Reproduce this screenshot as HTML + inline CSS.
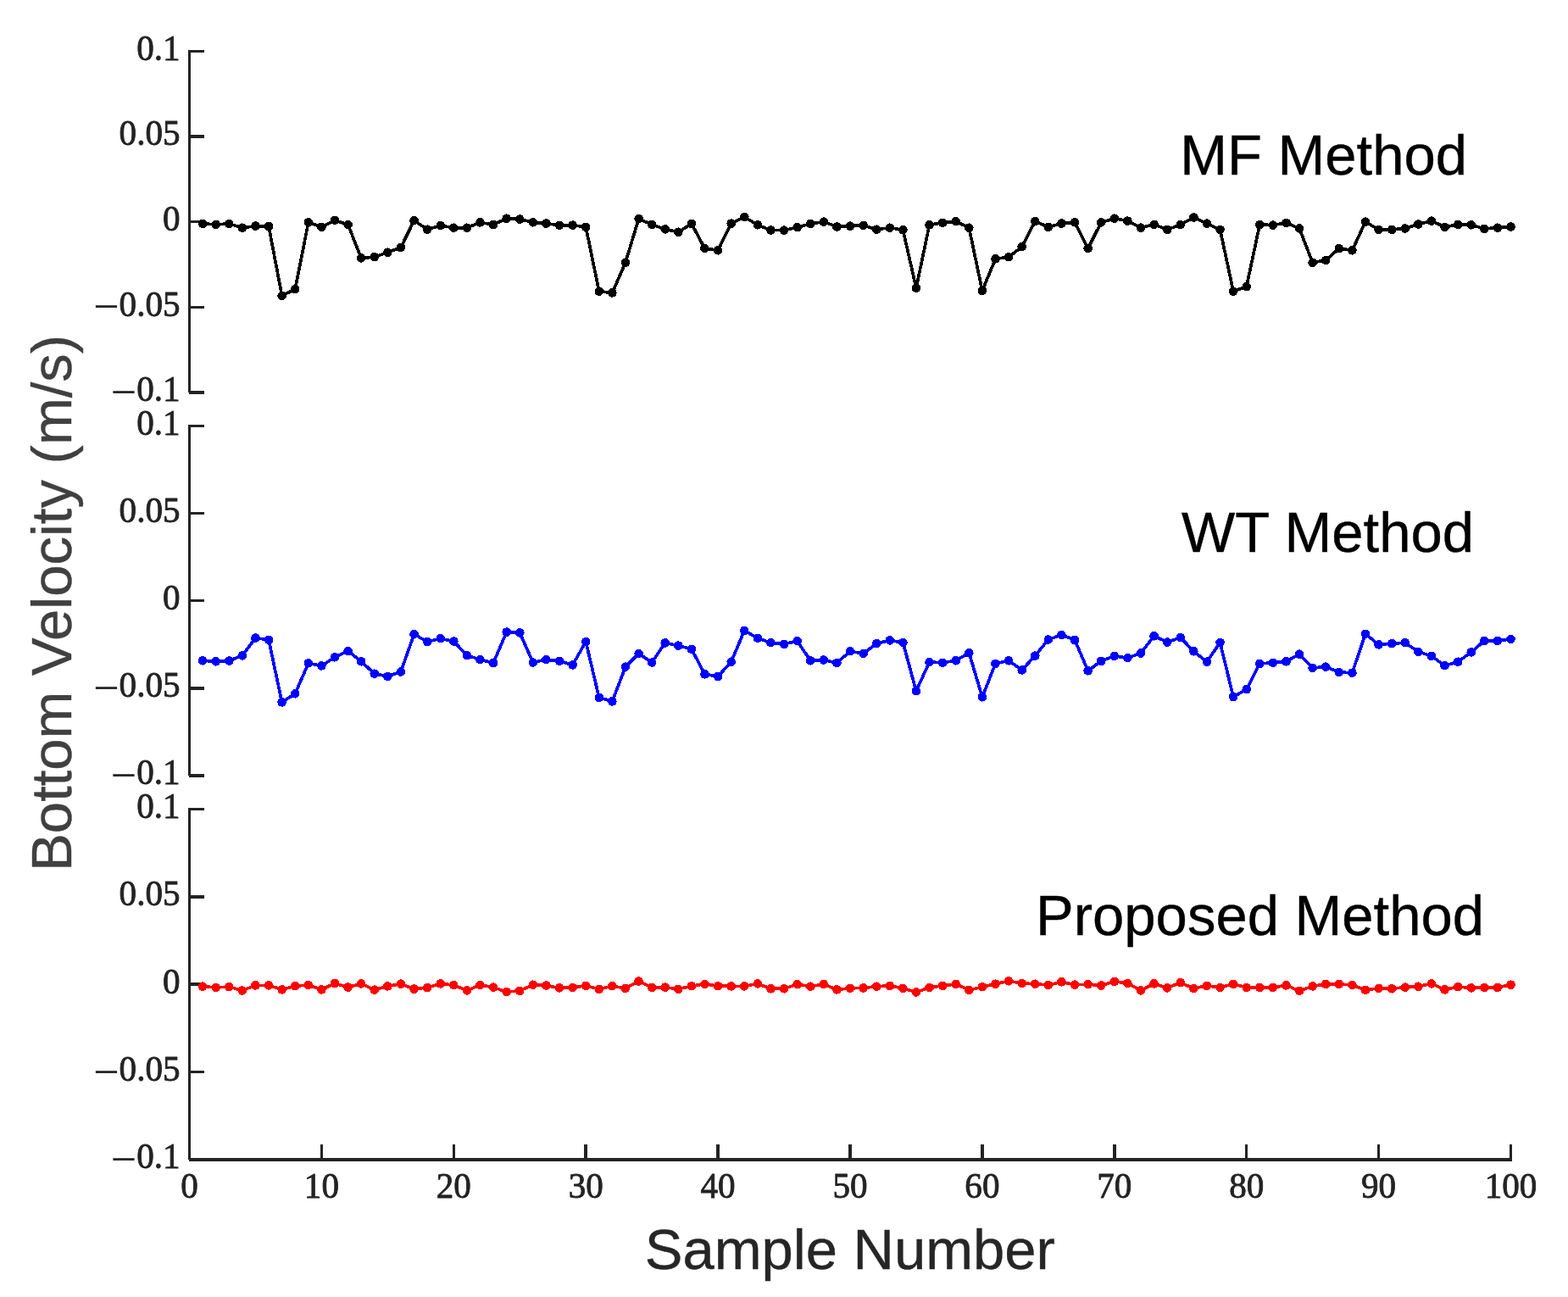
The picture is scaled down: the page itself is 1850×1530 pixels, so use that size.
<!DOCTYPE html>
<html lang="en">
<head>
<meta charset="utf-8">
<title>Bottom Velocity vs Sample Number</title>
<style>
html,body{margin:0;padding:0;background:#fff;}
body{width:1850px;height:1530px;overflow:hidden;}
svg{display:block;}
.tk{font-family:"Liberation Serif","DejaVu Serif",serif;font-size:42.2px;fill:#232323;stroke:#232323;stroke-width:0.85;stroke-linejoin:round;}
.mn{font-size:55.7px;stroke-width:0;}
.lb{font-family:"Liberation Sans","DejaVu Sans",sans-serif;font-size:67px;stroke-width:0.4;stroke-linejoin:round;}
.tt{font-family:"Liberation Sans","DejaVu Sans",sans-serif;font-size:67px;fill:#000;stroke:#000;stroke-width:0.4;stroke-linejoin:round;}
.ax{fill:#232323;stroke:none;shape-rendering:crispEdges;}
</style>
</head>
<body>
<svg width="1850" height="1530" viewBox="0 0 1850 1530">
<rect x="0" y="0" width="1850" height="1530" fill="#ffffff"/>
<g>
<rect class="ax" x="221.75" y="58.65" width="3.5" height="404.5"/>
<rect class="ax" x="221.75" y="58.65" width="19.25" height="3.5"/>
<text class="tk" transform="translate(212.6 70.8) scale(0.975 1)" text-anchor="end">0.1</text>
<rect class="ax" x="221.75" y="159.28" width="19.25" height="3.5"/>
<text class="tk" transform="translate(212.6 171.43) scale(0.975 1)" text-anchor="end">0.05</text>
<rect class="ax" x="221.75" y="259.9" width="19.25" height="3.5"/>
<text class="tk" transform="translate(212.6 272.05) scale(0.975 1)" text-anchor="end">0</text>
<rect class="ax" x="221.75" y="360.52" width="19.25" height="3.5"/>
<text class="tk" transform="translate(212.6 372.67) scale(0.975 1)" text-anchor="end"><tspan class="mn" dy="7.75">−</tspan><tspan dy="-7.75" dx="0">0.05</tspan></text>
<rect class="ax" x="222.75" y="461.15" width="18.25" height="3.5"/>
<text class="tk" transform="translate(212.6 473.3) scale(0.975 1)" text-anchor="end"><tspan class="mn" dy="7.75">−</tspan><tspan dy="-7.75" dx="0">0.1</tspan></text>
</g>
<g>
<rect class="ax" x="221.75" y="500.65" width="3.5" height="414.5"/>
<rect class="ax" x="221.75" y="500.65" width="19.25" height="3.5"/>
<text class="tk" transform="translate(212.6 512.8) scale(0.975 1)" text-anchor="end">0.1</text>
<rect class="ax" x="221.75" y="603.77" width="19.25" height="3.5"/>
<text class="tk" transform="translate(212.6 615.92) scale(0.975 1)" text-anchor="end">0.05</text>
<rect class="ax" x="221.75" y="706.9" width="19.25" height="3.5"/>
<text class="tk" transform="translate(212.6 719.05) scale(0.975 1)" text-anchor="end">0</text>
<rect class="ax" x="221.75" y="810.02" width="19.25" height="3.5"/>
<text class="tk" transform="translate(212.6 822.17) scale(0.975 1)" text-anchor="end"><tspan class="mn" dy="7.75">−</tspan><tspan dy="-7.75" dx="0">0.05</tspan></text>
<rect class="ax" x="222.75" y="913.15" width="18.25" height="3.5"/>
<text class="tk" transform="translate(212.6 925.3) scale(0.975 1)" text-anchor="end"><tspan class="mn" dy="7.75">−</tspan><tspan dy="-7.75" dx="0">0.1</tspan></text>
</g>
<g>
<rect class="ax" x="221.75" y="952.65" width="3.5" height="415.5"/>
<rect class="ax" x="221.75" y="952.65" width="19.25" height="3.5"/>
<text class="tk" transform="translate(212.6 964.8) scale(0.975 1)" text-anchor="end">0.1</text>
<rect class="ax" x="221.75" y="1056.03" width="19.25" height="3.5"/>
<text class="tk" transform="translate(212.6 1068.18) scale(0.975 1)" text-anchor="end">0.05</text>
<rect class="ax" x="221.75" y="1159.4" width="19.25" height="3.5"/>
<text class="tk" transform="translate(212.6 1171.55) scale(0.975 1)" text-anchor="end">0</text>
<rect class="ax" x="221.75" y="1262.78" width="19.25" height="3.5"/>
<text class="tk" transform="translate(212.6 1274.93) scale(0.975 1)" text-anchor="end"><tspan class="mn" dy="7.75">−</tspan><tspan dy="-7.75" dx="0">0.05</tspan></text>
<text class="tk" transform="translate(212.6 1378.3) scale(0.975 1)" text-anchor="end"><tspan class="mn" dy="7.75">−</tspan><tspan dy="-7.75" dx="0">0.1</tspan></text>
</g>
<g>
<rect class="ax" x="222.75" y="1366.15" width="1561.5" height="3.5"/>
<text class="tk" transform="translate(223.5 1413.1) scale(0.975 1)" text-anchor="middle">0</text>
<rect class="ax" x="377.65" y="1350" width="3.5" height="17.9"/>
<text class="tk" transform="translate(379.4 1413.1) scale(0.975 1)" text-anchor="middle">10</text>
<rect class="ax" x="533.55" y="1350" width="3.5" height="17.9"/>
<text class="tk" transform="translate(535.3 1413.1) scale(0.975 1)" text-anchor="middle">20</text>
<rect class="ax" x="689.45" y="1350" width="3.5" height="17.9"/>
<text class="tk" transform="translate(691.2 1413.1) scale(0.975 1)" text-anchor="middle">30</text>
<rect class="ax" x="845.35" y="1350" width="3.5" height="17.9"/>
<text class="tk" transform="translate(847.1 1413.1) scale(0.975 1)" text-anchor="middle">40</text>
<rect class="ax" x="1001.25" y="1350" width="3.5" height="17.9"/>
<text class="tk" transform="translate(1003 1413.1) scale(0.975 1)" text-anchor="middle">50</text>
<rect class="ax" x="1157.15" y="1350" width="3.5" height="17.9"/>
<text class="tk" transform="translate(1158.9 1413.1) scale(0.975 1)" text-anchor="middle">60</text>
<rect class="ax" x="1313.05" y="1350" width="3.5" height="17.9"/>
<text class="tk" transform="translate(1314.8 1413.1) scale(0.975 1)" text-anchor="middle">70</text>
<rect class="ax" x="1468.95" y="1350" width="3.5" height="17.9"/>
<text class="tk" transform="translate(1470.7 1413.1) scale(0.975 1)" text-anchor="middle">80</text>
<rect class="ax" x="1624.85" y="1350" width="3.5" height="17.9"/>
<text class="tk" transform="translate(1626.6 1413.1) scale(0.975 1)" text-anchor="middle">90</text>
<rect class="ax" x="1780.75" y="1350" width="3.5" height="17.9"/>
<text class="tk" transform="translate(1782.5 1413.1) scale(0.975 1)" text-anchor="middle">100</text>
</g>
<g fill="#000000" stroke="none" shape-rendering="crispEdges">
<polyline points="239.09,263.95 254.68,264.8 270.27,263.95 285.86,268.7 301.45,266.6 317.04,267 332.63,348.8 348.22,341.2 363.81,262.4 379.4,267.8 394.99,259.9 410.58,265 426.17,304.4 441.76,303.2 457.35,297.7 472.94,291.9 488.53,260.2 504.12,270.7 519.71,266.1 535.3,268.7 550.89,268.7 566.48,262.4 582.07,265 597.66,257.7 613.25,258.55 628.84,262.3 644.43,263.6 660.02,265.8 675.61,265.6 691.2,267.8 706.79,343.7 722.38,345.4 737.97,309.7 753.56,258 769.15,265 784.74,270.4 800.33,273.7 815.92,263.95 831.51,293.1 847.1,295.3 862.69,263.6 878.28,256 893.87,265.3 909.46,271.5 925.05,271.7 940.64,268.2 956.23,263.95 971.82,261.6 987.41,267.5 1003,266.6 1018.59,265.8 1034.18,270.7 1049.77,268.7 1065.36,271.2 1080.95,339.85 1096.54,265.3 1112.13,262.8 1127.72,261.2 1143.31,268.7 1158.9,342.9 1174.49,305.4 1190.08,303.2 1205.67,291.1 1221.26,261.1 1236.85,267.8 1252.44,263.6 1268.03,262.3 1283.62,293.1 1299.21,262.4 1314.8,257.7 1330.39,260.6 1345.98,268.7 1361.57,264.8 1377.16,270.9 1392.75,265 1408.34,256.5 1423.93,263.6 1439.52,270.9 1455.11,343.7 1470.7,338.2 1486.29,264.96 1501.88,265.6 1517.47,262.8 1533.06,269.5 1548.65,309.7 1564.24,306.96 1579.83,293.1 1595.42,295.3 1611.01,261.6 1626.6,270.9 1642.19,270.9 1657.78,269.5 1673.37,264.5 1688.96,260.6 1704.55,267.8 1720.14,265 1735.73,265.3 1751.32,269.85 1766.91,268.7 1782.5,267.5" fill="none" stroke="#000000" stroke-width="3.7" stroke-linejoin="round" stroke-linecap="round"/>
<circle cx="239.09" cy="263.95" r="5.3"/><circle cx="254.68" cy="264.8" r="5.3"/><circle cx="270.27" cy="263.95" r="5.3"/><circle cx="285.86" cy="268.7" r="5.3"/><circle cx="301.45" cy="266.6" r="5.3"/>
<circle cx="317.04" cy="267" r="5.3"/><circle cx="332.63" cy="348.8" r="5.3"/><circle cx="348.22" cy="341.2" r="5.3"/><circle cx="363.81" cy="262.4" r="5.3"/><circle cx="379.4" cy="267.8" r="5.3"/>
<circle cx="394.99" cy="259.9" r="5.3"/><circle cx="410.58" cy="265" r="5.3"/><circle cx="426.17" cy="304.4" r="5.3"/><circle cx="441.76" cy="303.2" r="5.3"/><circle cx="457.35" cy="297.7" r="5.3"/>
<circle cx="472.94" cy="291.9" r="5.3"/><circle cx="488.53" cy="260.2" r="5.3"/><circle cx="504.12" cy="270.7" r="5.3"/><circle cx="519.71" cy="266.1" r="5.3"/><circle cx="535.3" cy="268.7" r="5.3"/>
<circle cx="550.89" cy="268.7" r="5.3"/><circle cx="566.48" cy="262.4" r="5.3"/><circle cx="582.07" cy="265" r="5.3"/><circle cx="597.66" cy="257.7" r="5.3"/><circle cx="613.25" cy="258.55" r="5.3"/>
<circle cx="628.84" cy="262.3" r="5.3"/><circle cx="644.43" cy="263.6" r="5.3"/><circle cx="660.02" cy="265.8" r="5.3"/><circle cx="675.61" cy="265.6" r="5.3"/><circle cx="691.2" cy="267.8" r="5.3"/>
<circle cx="706.79" cy="343.7" r="5.3"/><circle cx="722.38" cy="345.4" r="5.3"/><circle cx="737.97" cy="309.7" r="5.3"/><circle cx="753.56" cy="258" r="5.3"/><circle cx="769.15" cy="265" r="5.3"/>
<circle cx="784.74" cy="270.4" r="5.3"/><circle cx="800.33" cy="273.7" r="5.3"/><circle cx="815.92" cy="263.95" r="5.3"/><circle cx="831.51" cy="293.1" r="5.3"/><circle cx="847.1" cy="295.3" r="5.3"/>
<circle cx="862.69" cy="263.6" r="5.3"/><circle cx="878.28" cy="256" r="5.3"/><circle cx="893.87" cy="265.3" r="5.3"/><circle cx="909.46" cy="271.5" r="5.3"/><circle cx="925.05" cy="271.7" r="5.3"/>
<circle cx="940.64" cy="268.2" r="5.3"/><circle cx="956.23" cy="263.95" r="5.3"/><circle cx="971.82" cy="261.6" r="5.3"/><circle cx="987.41" cy="267.5" r="5.3"/><circle cx="1003" cy="266.6" r="5.3"/>
<circle cx="1018.59" cy="265.8" r="5.3"/><circle cx="1034.18" cy="270.7" r="5.3"/><circle cx="1049.77" cy="268.7" r="5.3"/><circle cx="1065.36" cy="271.2" r="5.3"/><circle cx="1080.95" cy="339.85" r="5.3"/>
<circle cx="1096.54" cy="265.3" r="5.3"/><circle cx="1112.13" cy="262.8" r="5.3"/><circle cx="1127.72" cy="261.2" r="5.3"/><circle cx="1143.31" cy="268.7" r="5.3"/><circle cx="1158.9" cy="342.9" r="5.3"/>
<circle cx="1174.49" cy="305.4" r="5.3"/><circle cx="1190.08" cy="303.2" r="5.3"/><circle cx="1205.67" cy="291.1" r="5.3"/><circle cx="1221.26" cy="261.1" r="5.3"/><circle cx="1236.85" cy="267.8" r="5.3"/>
<circle cx="1252.44" cy="263.6" r="5.3"/><circle cx="1268.03" cy="262.3" r="5.3"/><circle cx="1283.62" cy="293.1" r="5.3"/><circle cx="1299.21" cy="262.4" r="5.3"/><circle cx="1314.8" cy="257.7" r="5.3"/>
<circle cx="1330.39" cy="260.6" r="5.3"/><circle cx="1345.98" cy="268.7" r="5.3"/><circle cx="1361.57" cy="264.8" r="5.3"/><circle cx="1377.16" cy="270.9" r="5.3"/><circle cx="1392.75" cy="265" r="5.3"/>
<circle cx="1408.34" cy="256.5" r="5.3"/><circle cx="1423.93" cy="263.6" r="5.3"/><circle cx="1439.52" cy="270.9" r="5.3"/><circle cx="1455.11" cy="343.7" r="5.3"/><circle cx="1470.7" cy="338.2" r="5.3"/>
<circle cx="1486.29" cy="264.96" r="5.3"/><circle cx="1501.88" cy="265.6" r="5.3"/><circle cx="1517.47" cy="262.8" r="5.3"/><circle cx="1533.06" cy="269.5" r="5.3"/><circle cx="1548.65" cy="309.7" r="5.3"/>
<circle cx="1564.24" cy="306.96" r="5.3"/><circle cx="1579.83" cy="293.1" r="5.3"/><circle cx="1595.42" cy="295.3" r="5.3"/><circle cx="1611.01" cy="261.6" r="5.3"/><circle cx="1626.6" cy="270.9" r="5.3"/>
<circle cx="1642.19" cy="270.9" r="5.3"/><circle cx="1657.78" cy="269.5" r="5.3"/><circle cx="1673.37" cy="264.5" r="5.3"/><circle cx="1688.96" cy="260.6" r="5.3"/><circle cx="1704.55" cy="267.8" r="5.3"/>
<circle cx="1720.14" cy="265" r="5.3"/><circle cx="1735.73" cy="265.3" r="5.3"/><circle cx="1751.32" cy="269.85" r="5.3"/><circle cx="1766.91" cy="268.7" r="5.3"/><circle cx="1782.5" cy="267.5" r="5.3"/>
</g>
<g fill="#0000ff" stroke="none" shape-rendering="crispEdges">
<polyline points="239.09,779.3 254.68,780.3 270.27,779.5 285.86,773.4 301.45,752.5 317.04,754.85 332.63,828.4 348.22,818.3 363.81,782.3 379.4,785.4 394.99,775.3 410.58,768 426.17,780.3 441.76,794.7 457.35,797.9 472.94,792.5 488.53,748.1 504.12,757 519.71,753.2 535.3,756.5 550.89,773.1 566.48,778.1 582.07,782 597.66,745.6 613.25,746.4 628.84,781.5 644.43,778.1 660.02,779.8 675.61,784.4 691.2,757 706.79,822.8 722.38,827.4 737.97,786.6 753.56,771 769.15,781.5 784.74,758.4 800.33,761.6 815.92,765.8 831.51,795.3 847.1,798 862.69,780.7 878.28,743.9 893.87,752.8 909.46,758.2 925.05,759.9 940.64,756.2 956.23,779.3 971.82,778.5 987.41,782 1003,768.3 1018.59,770.9 1034.18,759.2 1049.77,755.4 1065.36,757.9 1080.95,815.2 1096.54,781 1112.13,781.8 1127.72,779.3 1143.31,770.2 1158.9,822.3 1174.49,782.85 1190.08,779.3 1205.67,790.4 1221.26,773.6 1236.85,754.5 1252.44,748.95 1268.03,755 1283.62,791.3 1299.21,779.8 1314.8,773.9 1330.39,776.1 1345.98,770.5 1361.57,750.3 1377.16,757.55 1392.75,752 1408.34,768.3 1423.93,780.7 1439.52,757.9 1455.11,822 1470.7,813.2 1486.29,782.85 1501.88,781.8 1517.47,780.3 1533.06,771.7 1548.65,787.9 1564.24,786.6 1579.83,793 1595.42,793.65 1611.01,747.8 1626.6,760.4 1642.19,759.2 1657.78,758.2 1673.37,768.85 1688.96,773.9 1704.55,785.2 1720.14,780.7 1735.73,769.4 1751.32,755.9 1766.91,755.9 1782.5,754" fill="none" stroke="#0000ff" stroke-width="3.7" stroke-linejoin="round" stroke-linecap="round"/>
<circle cx="239.09" cy="779.3" r="5.3"/><circle cx="254.68" cy="780.3" r="5.3"/><circle cx="270.27" cy="779.5" r="5.3"/><circle cx="285.86" cy="773.4" r="5.3"/><circle cx="301.45" cy="752.5" r="5.3"/>
<circle cx="317.04" cy="754.85" r="5.3"/><circle cx="332.63" cy="828.4" r="5.3"/><circle cx="348.22" cy="818.3" r="5.3"/><circle cx="363.81" cy="782.3" r="5.3"/><circle cx="379.4" cy="785.4" r="5.3"/>
<circle cx="394.99" cy="775.3" r="5.3"/><circle cx="410.58" cy="768" r="5.3"/><circle cx="426.17" cy="780.3" r="5.3"/><circle cx="441.76" cy="794.7" r="5.3"/><circle cx="457.35" cy="797.9" r="5.3"/>
<circle cx="472.94" cy="792.5" r="5.3"/><circle cx="488.53" cy="748.1" r="5.3"/><circle cx="504.12" cy="757" r="5.3"/><circle cx="519.71" cy="753.2" r="5.3"/><circle cx="535.3" cy="756.5" r="5.3"/>
<circle cx="550.89" cy="773.1" r="5.3"/><circle cx="566.48" cy="778.1" r="5.3"/><circle cx="582.07" cy="782" r="5.3"/><circle cx="597.66" cy="745.6" r="5.3"/><circle cx="613.25" cy="746.4" r="5.3"/>
<circle cx="628.84" cy="781.5" r="5.3"/><circle cx="644.43" cy="778.1" r="5.3"/><circle cx="660.02" cy="779.8" r="5.3"/><circle cx="675.61" cy="784.4" r="5.3"/><circle cx="691.2" cy="757" r="5.3"/>
<circle cx="706.79" cy="822.8" r="5.3"/><circle cx="722.38" cy="827.4" r="5.3"/><circle cx="737.97" cy="786.6" r="5.3"/><circle cx="753.56" cy="771" r="5.3"/><circle cx="769.15" cy="781.5" r="5.3"/>
<circle cx="784.74" cy="758.4" r="5.3"/><circle cx="800.33" cy="761.6" r="5.3"/><circle cx="815.92" cy="765.8" r="5.3"/><circle cx="831.51" cy="795.3" r="5.3"/><circle cx="847.1" cy="798" r="5.3"/>
<circle cx="862.69" cy="780.7" r="5.3"/><circle cx="878.28" cy="743.9" r="5.3"/><circle cx="893.87" cy="752.8" r="5.3"/><circle cx="909.46" cy="758.2" r="5.3"/><circle cx="925.05" cy="759.9" r="5.3"/>
<circle cx="940.64" cy="756.2" r="5.3"/><circle cx="956.23" cy="779.3" r="5.3"/><circle cx="971.82" cy="778.5" r="5.3"/><circle cx="987.41" cy="782" r="5.3"/><circle cx="1003" cy="768.3" r="5.3"/>
<circle cx="1018.59" cy="770.9" r="5.3"/><circle cx="1034.18" cy="759.2" r="5.3"/><circle cx="1049.77" cy="755.4" r="5.3"/><circle cx="1065.36" cy="757.9" r="5.3"/><circle cx="1080.95" cy="815.2" r="5.3"/>
<circle cx="1096.54" cy="781" r="5.3"/><circle cx="1112.13" cy="781.8" r="5.3"/><circle cx="1127.72" cy="779.3" r="5.3"/><circle cx="1143.31" cy="770.2" r="5.3"/><circle cx="1158.9" cy="822.3" r="5.3"/>
<circle cx="1174.49" cy="782.85" r="5.3"/><circle cx="1190.08" cy="779.3" r="5.3"/><circle cx="1205.67" cy="790.4" r="5.3"/><circle cx="1221.26" cy="773.6" r="5.3"/><circle cx="1236.85" cy="754.5" r="5.3"/>
<circle cx="1252.44" cy="748.95" r="5.3"/><circle cx="1268.03" cy="755" r="5.3"/><circle cx="1283.62" cy="791.3" r="5.3"/><circle cx="1299.21" cy="779.8" r="5.3"/><circle cx="1314.8" cy="773.9" r="5.3"/>
<circle cx="1330.39" cy="776.1" r="5.3"/><circle cx="1345.98" cy="770.5" r="5.3"/><circle cx="1361.57" cy="750.3" r="5.3"/><circle cx="1377.16" cy="757.55" r="5.3"/><circle cx="1392.75" cy="752" r="5.3"/>
<circle cx="1408.34" cy="768.3" r="5.3"/><circle cx="1423.93" cy="780.7" r="5.3"/><circle cx="1439.52" cy="757.9" r="5.3"/><circle cx="1455.11" cy="822" r="5.3"/><circle cx="1470.7" cy="813.2" r="5.3"/>
<circle cx="1486.29" cy="782.85" r="5.3"/><circle cx="1501.88" cy="781.8" r="5.3"/><circle cx="1517.47" cy="780.3" r="5.3"/><circle cx="1533.06" cy="771.7" r="5.3"/><circle cx="1548.65" cy="787.9" r="5.3"/>
<circle cx="1564.24" cy="786.6" r="5.3"/><circle cx="1579.83" cy="793" r="5.3"/><circle cx="1595.42" cy="793.65" r="5.3"/><circle cx="1611.01" cy="747.8" r="5.3"/><circle cx="1626.6" cy="760.4" r="5.3"/>
<circle cx="1642.19" cy="759.2" r="5.3"/><circle cx="1657.78" cy="758.2" r="5.3"/><circle cx="1673.37" cy="768.85" r="5.3"/><circle cx="1688.96" cy="773.9" r="5.3"/><circle cx="1704.55" cy="785.2" r="5.3"/>
<circle cx="1720.14" cy="780.7" r="5.3"/><circle cx="1735.73" cy="769.4" r="5.3"/><circle cx="1751.32" cy="755.9" r="5.3"/><circle cx="1766.91" cy="755.9" r="5.3"/><circle cx="1782.5" cy="754" r="5.3"/>
</g>
<g fill="#ff0000" stroke="none" shape-rendering="crispEdges">
<polyline points="239.09,1163.7 254.68,1164.9 270.27,1164.1 285.86,1168.5 301.45,1162.4 317.04,1162.4 332.63,1167.4 348.22,1163.2 363.81,1162 379.4,1167.4 394.99,1160 410.58,1164.6 426.17,1160.4 441.76,1167.6 457.35,1163.4 472.94,1160.7 488.53,1166.6 504.12,1165.1 519.71,1160.4 535.3,1162 550.89,1168.45 566.48,1162 582.07,1164.6 597.66,1170.1 613.25,1168.8 628.84,1161.7 644.43,1162.55 660.02,1165.4 675.61,1164.9 691.2,1162.9 706.79,1166.8 722.38,1163.2 737.97,1165.9 753.56,1157.5 769.15,1164.9 784.74,1164.6 800.33,1166.8 815.92,1163.2 831.51,1160.9 847.1,1163.2 862.69,1163.4 878.28,1163.4 893.87,1160.4 909.46,1166.3 925.05,1166.3 940.64,1161.2 956.23,1163.7 971.82,1160.9 987.41,1167.4 1003,1165.8 1018.59,1165.4 1034.18,1163.7 1049.77,1162.9 1065.36,1165.8 1080.95,1170.5 1096.54,1164.9 1112.13,1162.9 1127.72,1160.9 1143.31,1167.9 1158.9,1164.2 1174.49,1160.7 1190.08,1157.3 1205.67,1160 1221.26,1160.7 1236.85,1162 1252.44,1158.3 1268.03,1161.7 1283.62,1161.2 1299.21,1162.55 1314.8,1157.8 1330.39,1159.85 1345.98,1168.45 1361.57,1160.4 1377.16,1165.4 1392.75,1159.2 1408.34,1165.9 1423.93,1162.9 1439.52,1164.9 1455.11,1160.9 1470.7,1164.9 1486.29,1164.9 1501.88,1164.9 1517.47,1162.4 1533.06,1168.8 1548.65,1163.4 1564.24,1160.9 1579.83,1160.9 1595.42,1162 1611.01,1167.9 1626.6,1165.8 1642.19,1166.3 1657.78,1164.6 1673.37,1163.7 1688.96,1160.4 1704.55,1167.4 1720.14,1164.1 1735.73,1165.4 1751.32,1165.1 1766.91,1164.9 1782.5,1161.7" fill="none" stroke="#ff0000" stroke-width="3.7" stroke-linejoin="round" stroke-linecap="round"/>
<circle cx="239.09" cy="1163.7" r="5.3"/><circle cx="254.68" cy="1164.9" r="5.3"/><circle cx="270.27" cy="1164.1" r="5.3"/><circle cx="285.86" cy="1168.5" r="5.3"/><circle cx="301.45" cy="1162.4" r="5.3"/>
<circle cx="317.04" cy="1162.4" r="5.3"/><circle cx="332.63" cy="1167.4" r="5.3"/><circle cx="348.22" cy="1163.2" r="5.3"/><circle cx="363.81" cy="1162" r="5.3"/><circle cx="379.4" cy="1167.4" r="5.3"/>
<circle cx="394.99" cy="1160" r="5.3"/><circle cx="410.58" cy="1164.6" r="5.3"/><circle cx="426.17" cy="1160.4" r="5.3"/><circle cx="441.76" cy="1167.6" r="5.3"/><circle cx="457.35" cy="1163.4" r="5.3"/>
<circle cx="472.94" cy="1160.7" r="5.3"/><circle cx="488.53" cy="1166.6" r="5.3"/><circle cx="504.12" cy="1165.1" r="5.3"/><circle cx="519.71" cy="1160.4" r="5.3"/><circle cx="535.3" cy="1162" r="5.3"/>
<circle cx="550.89" cy="1168.45" r="5.3"/><circle cx="566.48" cy="1162" r="5.3"/><circle cx="582.07" cy="1164.6" r="5.3"/><circle cx="597.66" cy="1170.1" r="5.3"/><circle cx="613.25" cy="1168.8" r="5.3"/>
<circle cx="628.84" cy="1161.7" r="5.3"/><circle cx="644.43" cy="1162.55" r="5.3"/><circle cx="660.02" cy="1165.4" r="5.3"/><circle cx="675.61" cy="1164.9" r="5.3"/><circle cx="691.2" cy="1162.9" r="5.3"/>
<circle cx="706.79" cy="1166.8" r="5.3"/><circle cx="722.38" cy="1163.2" r="5.3"/><circle cx="737.97" cy="1165.9" r="5.3"/><circle cx="753.56" cy="1157.5" r="5.3"/><circle cx="769.15" cy="1164.9" r="5.3"/>
<circle cx="784.74" cy="1164.6" r="5.3"/><circle cx="800.33" cy="1166.8" r="5.3"/><circle cx="815.92" cy="1163.2" r="5.3"/><circle cx="831.51" cy="1160.9" r="5.3"/><circle cx="847.1" cy="1163.2" r="5.3"/>
<circle cx="862.69" cy="1163.4" r="5.3"/><circle cx="878.28" cy="1163.4" r="5.3"/><circle cx="893.87" cy="1160.4" r="5.3"/><circle cx="909.46" cy="1166.3" r="5.3"/><circle cx="925.05" cy="1166.3" r="5.3"/>
<circle cx="940.64" cy="1161.2" r="5.3"/><circle cx="956.23" cy="1163.7" r="5.3"/><circle cx="971.82" cy="1160.9" r="5.3"/><circle cx="987.41" cy="1167.4" r="5.3"/><circle cx="1003" cy="1165.8" r="5.3"/>
<circle cx="1018.59" cy="1165.4" r="5.3"/><circle cx="1034.18" cy="1163.7" r="5.3"/><circle cx="1049.77" cy="1162.9" r="5.3"/><circle cx="1065.36" cy="1165.8" r="5.3"/><circle cx="1080.95" cy="1170.5" r="5.3"/>
<circle cx="1096.54" cy="1164.9" r="5.3"/><circle cx="1112.13" cy="1162.9" r="5.3"/><circle cx="1127.72" cy="1160.9" r="5.3"/><circle cx="1143.31" cy="1167.9" r="5.3"/><circle cx="1158.9" cy="1164.2" r="5.3"/>
<circle cx="1174.49" cy="1160.7" r="5.3"/><circle cx="1190.08" cy="1157.3" r="5.3"/><circle cx="1205.67" cy="1160" r="5.3"/><circle cx="1221.26" cy="1160.7" r="5.3"/><circle cx="1236.85" cy="1162" r="5.3"/>
<circle cx="1252.44" cy="1158.3" r="5.3"/><circle cx="1268.03" cy="1161.7" r="5.3"/><circle cx="1283.62" cy="1161.2" r="5.3"/><circle cx="1299.21" cy="1162.55" r="5.3"/><circle cx="1314.8" cy="1157.8" r="5.3"/>
<circle cx="1330.39" cy="1159.85" r="5.3"/><circle cx="1345.98" cy="1168.45" r="5.3"/><circle cx="1361.57" cy="1160.4" r="5.3"/><circle cx="1377.16" cy="1165.4" r="5.3"/><circle cx="1392.75" cy="1159.2" r="5.3"/>
<circle cx="1408.34" cy="1165.9" r="5.3"/><circle cx="1423.93" cy="1162.9" r="5.3"/><circle cx="1439.52" cy="1164.9" r="5.3"/><circle cx="1455.11" cy="1160.9" r="5.3"/><circle cx="1470.7" cy="1164.9" r="5.3"/>
<circle cx="1486.29" cy="1164.9" r="5.3"/><circle cx="1501.88" cy="1164.9" r="5.3"/><circle cx="1517.47" cy="1162.4" r="5.3"/><circle cx="1533.06" cy="1168.8" r="5.3"/><circle cx="1548.65" cy="1163.4" r="5.3"/>
<circle cx="1564.24" cy="1160.9" r="5.3"/><circle cx="1579.83" cy="1160.9" r="5.3"/><circle cx="1595.42" cy="1162" r="5.3"/><circle cx="1611.01" cy="1167.9" r="5.3"/><circle cx="1626.6" cy="1165.8" r="5.3"/>
<circle cx="1642.19" cy="1166.3" r="5.3"/><circle cx="1657.78" cy="1164.6" r="5.3"/><circle cx="1673.37" cy="1163.7" r="5.3"/><circle cx="1688.96" cy="1160.4" r="5.3"/><circle cx="1704.55" cy="1167.4" r="5.3"/>
<circle cx="1720.14" cy="1164.1" r="5.3"/><circle cx="1735.73" cy="1165.4" r="5.3"/><circle cx="1751.32" cy="1165.1" r="5.3"/><circle cx="1766.91" cy="1164.9" r="5.3"/><circle cx="1782.5" cy="1161.7" r="5.3"/>
</g>
<text class="tt" x="1392.2" y="205.7">MF Method</text>
<text class="tt" x="1393.9" y="650.7">WT Method</text>
<text class="tt" x="1222.1" y="1102.7">Proposed Method</text>
<text class="lb" fill="#262626" stroke="#262626" x="1002.8" y="1496.8" text-anchor="middle">Sample Number</text>
<text class="lb" fill="#404040" stroke="#404040" transform="translate(84.1 711.35) rotate(-90)" text-anchor="middle">Bottom Velocity (m/s)</text>
</svg>
</body>
</html>
